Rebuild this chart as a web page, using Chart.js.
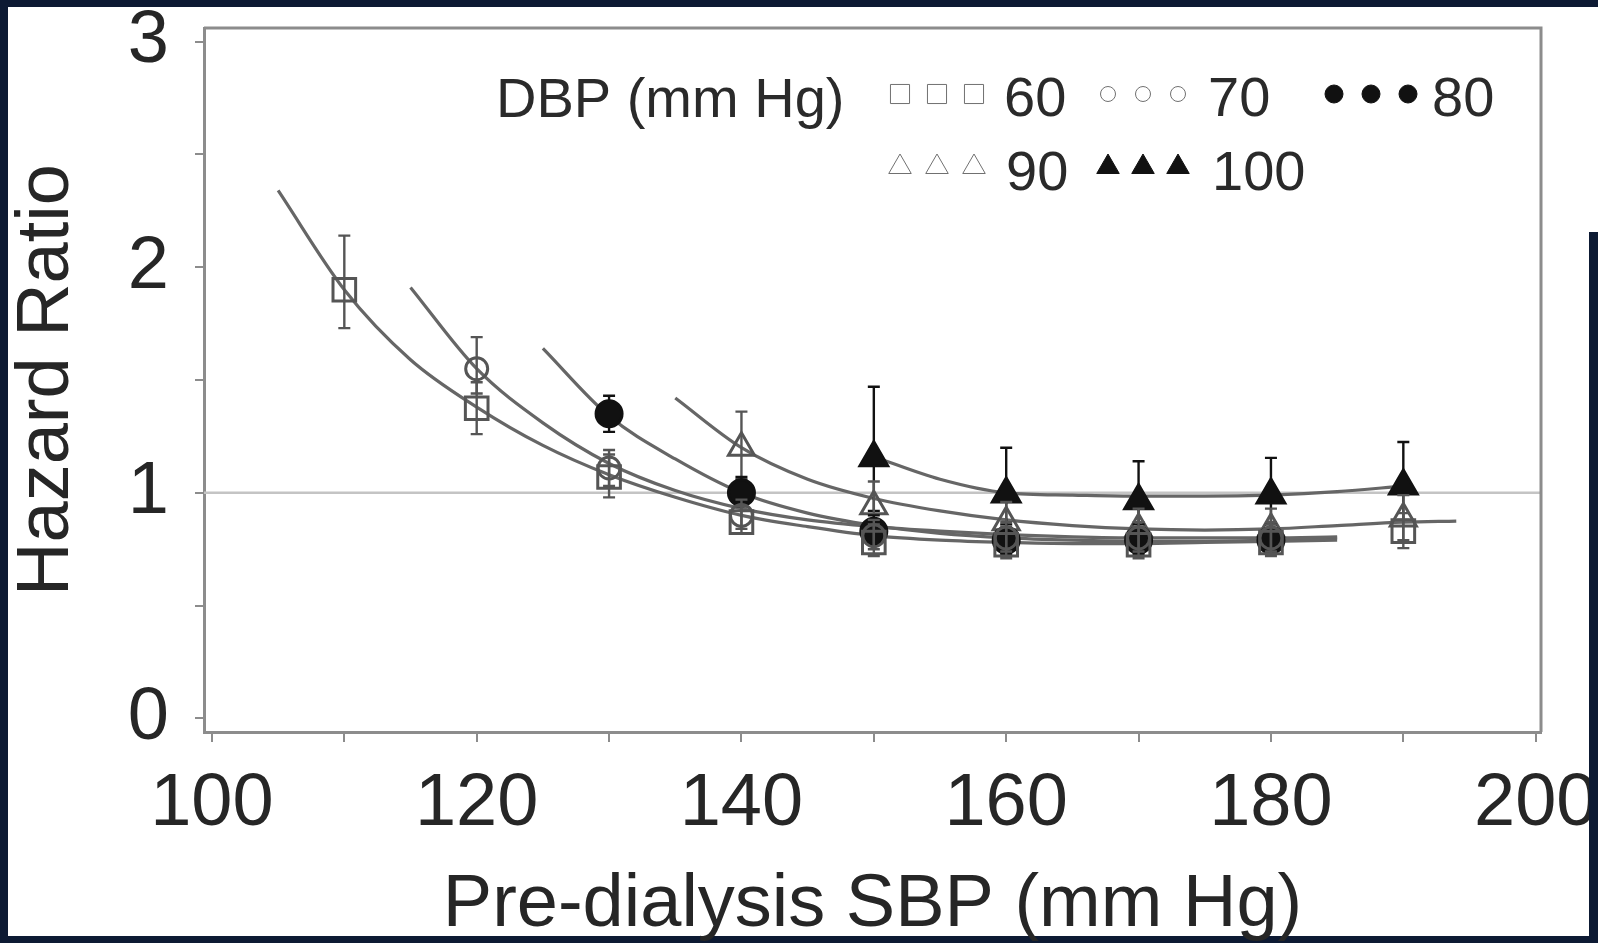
<!DOCTYPE html>
<html>
<head>
<meta charset="utf-8">
<script src="https://cdn.jsdelivr.net/npm/chart.js@4.4.1/dist/chart.umd.min.js"></script>
<style>
  html, body { margin: 0; padding: 0; background: #0d1a33; }
  #page { position: relative; width: 1598px; height: 943px; overflow: hidden; background: #0d1a33; }
  #paper { position: absolute; left: 8px; top: 7px; width: 1590px; height: 929px; background: #fff; }
  #edge { position: absolute; left: 1589px; top: 232px; width: 9px; height: 711px; background: #0d1a33; z-index: 2; }
  #wrap { position: absolute; left: 0; top: 0; width: 1598px; height: 943px; z-index: 1; }
</style>
</head>
<body>
<div id="page">
  <div id="paper"></div>
  <div id="wrap"><canvas id="chart" width="1598" height="943"></canvas></div>
  <div id="edge"></div>
</div>
<script>
// DBP groups (mm Hg)
const dbpLabels = ['60', '70', '80', '90', '100'];

// observed hazard ratios with 95% CI, by pre-dialysis SBP category
const sbp60 = [110, 120, 130, 140, 150, 160, 170, 180, 190];
const hr60 = [1.90, 1.375, 1.07, 0.87, 0.78, 0.77, 0.77, 0.78, 0.83];
const lo60 = [1.73, 1.26, 0.98, 0.82, 0.72, 0.71, 0.71, 0.72, 0.755];
const hi60 = [2.14, 1.49, 1.17, 0.94, 0.86, 0.85, 0.85, 0.86, 0.91];

const sbp70 = [120, 130, 140, 150, 160, 170, 180];
const hr70 = [1.55, 1.11, 0.90, 0.81, 0.80, 0.80, 0.80];
const lo70 = [1.44, 1.03, 0.84, 0.75, 0.74, 0.74, 0.74];
const hi70 = [1.69, 1.19, 0.97, 0.88, 0.87, 0.87, 0.87];

const sbp80 = [130, 140, 150, 160, 170, 180];
const hr80 = [1.35, 1.00, 0.83, 0.79, 0.79, 0.79];
const lo80 = [1.27, 0.94, 0.77, 0.73, 0.73, 0.73];
const hi80 = [1.43, 1.07, 0.90, 0.86, 0.86, 0.86];

const sbp90 = [140, 150, 160, 170, 180, 190];
const hr90 = [1.20, 0.94, 0.87, 0.84, 0.84, 0.886];
const lo90 = [1.06, 0.84, 0.78, 0.76, 0.76, 0.79];
const hi90 = [1.36, 1.05, 0.96, 0.93, 0.93, 0.99];

const sbp100 = [150, 160, 170, 180, 190];
const hr100 = [1.155, 0.995, 0.965, 0.99, 1.03];
const lo100 = [0.92, 0.84, 0.82, 0.84, 0.88];
const hi100 = [1.47, 1.20, 1.14, 1.155, 1.225];

// fitted curves
const fitX60 = [105, 110, 115, 120, 125, 130, 135, 140, 145, 150, 155, 160, 165, 170, 175, 180, 185];
const fit60 = [2.34, 1.90, 1.59, 1.38, 1.21, 1.08, 0.98, 0.90, 0.85, 0.81, 0.79, 0.78, 0.775, 0.775, 0.78, 0.785, 0.79];
const fitX70 = [115, 120, 125, 130, 135, 140, 145, 150, 155, 160, 165, 170, 175, 180, 185];
const fit70 = [1.91, 1.55, 1.31, 1.13, 1.01, 0.93, 0.88, 0.85, 0.83, 0.815, 0.805, 0.80, 0.80, 0.80, 0.805];
const fitX80 = [125, 130, 135, 140, 145, 150, 155, 160, 165, 170, 175, 180, 185];
const fit80 = [1.64, 1.34, 1.15, 1.00, 0.91, 0.855, 0.82, 0.80, 0.79, 0.785, 0.785, 0.79, 0.80];
const fitX90 = [135, 140, 145, 150, 155, 160, 165, 170, 175, 180, 185, 190, 194];
const fit90 = [1.42, 1.20, 1.06, 0.975, 0.92, 0.88, 0.855, 0.84, 0.835, 0.84, 0.855, 0.87, 0.875];
const fitX100 = [150, 155, 160, 165, 170, 175, 180, 185, 190];
const fit100 = [1.16, 1.06, 1.00, 0.99, 0.985, 0.985, 0.99, 1.005, 1.03];

// axis ticks
const xTicks = [100, 110, 120, 130, 140, 150, 160, 170, 180, 190, 200];
const yTicks = [0, 0.5, 1, 1.5, 2, 2.5, 3];
const refHR = 1;

const FONT = '"Liberation Sans", Arial, Helvetica, sans-serif';
const GREY = '#555';
const BLACK = '#111';

const groups = [
  { x: sbp60, y: hr60, lo: lo60, hi: hi60, fx: fitX60, fy: fit60, style: 'rect', r: 16, fill: 'rgba(255,255,255,0)', color: GREY },
  { x: sbp70, y: hr70, lo: lo70, hi: hi70, fx: fitX70, fy: fit70, style: 'circle', r: 11, fill: 'rgba(255,255,255,0)', color: GREY },
  { x: sbp80, y: hr80, lo: lo80, hi: hi80, fx: fitX80, fy: fit80, style: 'circle', r: 13, fill: BLACK, color: BLACK },
  { x: sbp90, y: hr90, lo: lo90, hi: hi90, fx: fitX90, fy: fit90, style: 'triangle', r: 15, fill: 'rgba(255,255,255,0)', color: GREY },
  { x: sbp100, y: hr100, lo: lo100, hi: hi100, fx: fitX100, fy: fit100, style: 'triangle', r: 16, fill: BLACK, color: BLACK }
];

const datasets = [];
groups.forEach((g, i) => {
  datasets.push({
    type: 'scatter',
    label: dbpLabels[i],
    data: g.x.map((v, k) => ({ x: v, y: g.y[k], lo: g.lo[k], hi: g.hi[k] })),
    pointStyle: g.style,
    pointRadius: g.r,
    pointBackgroundColor: g.fill,
    pointBorderColor: g.color,
    pointBorderWidth: 3,
    showLine: false,
    order: 1,
    errColor: g.color
  });
});
groups.forEach((g, i) => {
  datasets.push({
    type: 'line',
    label: 'fit ' + dbpLabels[i],
    data: g.fx.map((v, k) => ({ x: v, y: g.fy[k] })),
    borderColor: '#666',
    borderWidth: 3.2,
    pointRadius: 0,
    cubicInterpolationMode: 'monotone',
    fill: false,
    order: 5
  });
});

const framePlugin = {
  id: 'frame',
  beforeDatasetsDraw(chart) {
    const { ctx, chartArea: a, scales } = chart;
    const y1 = scales.y.getPixelForValue(refHR);
    ctx.save();
    ctx.strokeStyle = '#c4c4c4';
    ctx.lineWidth = 2.5;
    ctx.beginPath();
    ctx.moveTo(a.left, y1);
    ctx.lineTo(a.right, y1);
    ctx.stroke();
    ctx.strokeStyle = '#8c8c8c';
    ctx.lineWidth = 3;
    ctx.beginPath();
    ctx.moveTo(a.left, a.top);
    ctx.lineTo(a.right, a.top);
    ctx.lineTo(a.right, a.bottom);
    ctx.stroke();
    ctx.restore();
  },
  beforeDatasetDraw(chart, args) {
    const ds = chart.data.datasets[args.index];
    if (ds.type !== 'scatter') return;
    const { ctx, scales } = chart;
    ctx.save();
    ctx.strokeStyle = ds.errColor;
    ctx.lineWidth = 2.4;
    ds.data.forEach(p => {
      const px = scales.x.getPixelForValue(p.x);
      const top = scales.y.getPixelForValue(p.hi);
      const bot = scales.y.getPixelForValue(p.lo);
      ctx.beginPath();
      ctx.moveTo(px, top);
      ctx.lineTo(px, bot);
      ctx.moveTo(px - 6, top);
      ctx.lineTo(px + 6, top);
      ctx.moveTo(px - 6, bot);
      ctx.lineTo(px + 6, bot);
      ctx.stroke();
    });
    ctx.restore();
  },
  afterDraw(chart) {
    const ctx = chart.ctx;
    ctx.save();
    ctx.font = '56px ' + FONT;
    ctx.fillStyle = '#2a2a2a';
    ctx.textBaseline = 'middle';
    ctx.textAlign = 'left';
    ctx.fillText('DBP (mm Hg)', 496, 102);
    const rows = [
      { i: 0, cx: [900, 937, 974], tx: 1004, y: 94, ty: 101, r: 13.5 },
      { i: 1, cx: [1108, 1143, 1178], tx: 1208, y: 94, ty: 101, r: 7.5 },
      { i: 2, cx: [1334, 1371, 1408], tx: 1432, y: 94, ty: 101, r: 9 },
      { i: 3, cx: [900, 937, 974], tx: 1006, y: 167, ty: 175, r: 13 },
      { i: 4, cx: [1108, 1143, 1178], tx: 1212, y: 167, ty: 175, r: 13 }
    ];
    rows.forEach(row => {
      const g = groups[row.i];
      ctx.fillStyle = g.fill;
      ctx.strokeStyle = g.fill === BLACK ? BLACK : '#707070';
      row.cx.forEach(cx => {
        Chart.helpers.drawPoint(ctx, { pointStyle: g.style, radius: row.r, borderWidth: 3, rotation: 0 }, cx, row.y);
      });
      ctx.fillStyle = '#2a2a2a';
      ctx.fillText(dbpLabels[row.i], row.tx, row.ty);
    });
    ctx.restore();
  }
};

const tickFont = { family: FONT, size: 74 };

new Chart(document.getElementById('chart'), {
  data: { datasets },
  options: {
    responsive: false,
    animation: false,
    devicePixelRatio: 1,
    layout: { padding: { left: 0, top: 28, right: 57, bottom: 0 } },
    plugins: { legend: { display: false }, tooltip: { enabled: false } },
    scales: {
      x: {
        type: 'linear',
        min: 99.4,
        max: 200.4,
        afterBuildTicks: s => { s.ticks = xTicks.map(v => ({ value: v })); },
        afterFit: s => { s.height = 211; s.paddingLeft = 0; s.paddingRight = 0; },
        ticks: {
          autoSkip: false,
          maxRotation: 0,
          padding: 18,
          color: '#262626',
          font: tickFont,
          callback: v => (v % 20 === 0 ? String(v) : '')
        },
        grid: { drawOnChartArea: false, drawTicks: true, tickLength: 10, color: '#8c8c8c', lineWidth: 2 },
        border: { display: true, color: '#8c8c8c', width: 3 },
        title: {
          display: true,
          text: 'Pre-dialysis SBP (mm Hg)',
          color: '#262626',
          font: { family: FONT, size: 74, lineHeight: 1 },
          padding: { top: 0, bottom: 0 }
        }
      },
      y: {
        type: 'linear',
        min: -0.06,
        max: 3.06,
        afterBuildTicks: s => { s.ticks = yTicks.map(v => ({ value: v })); },
        afterFit: s => { s.width = 204; s.paddingTop = 0; s.paddingBottom = 0; },
        ticks: {
          autoSkip: false,
          padding: 26,
          color: '#262626',
          font: tickFont,
          callback: v => (Number.isInteger(v) ? String(v) : '')
        },
        grid: { drawOnChartArea: false, drawTicks: true, tickLength: 9, color: '#8c8c8c', lineWidth: 2 },
        border: { display: true, color: '#8c8c8c', width: 3 },
        title: {
          display: true,
          text: 'Hazard Ratio',
          color: '#262626',
          font: { family: FONT, size: 74, lineHeight: 1 },
          padding: { top: 11, bottom: 0 }
        }
      }
    }
  },
  plugins: [framePlugin]
});
</script>
</body>
</html>
